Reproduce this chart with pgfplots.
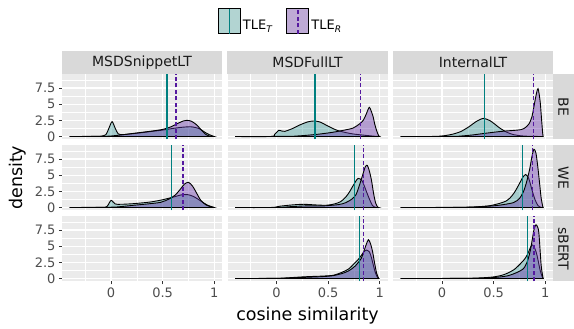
\documentclass[border=0pt]{standalone}
\usepackage{pgfplots}
\pgfplotsset{compat=1.18}
\usepgfplotslibrary{groupplots}
\usepackage{fontspec}
\setmainfont{DejaVu Sans}
\definecolor{gbg}{HTML}{EBEBEB}
\definecolor{gstrip}{HTML}{D9D9D9}
\definecolor{gtick}{HTML}{333333}
\definecolor{gtext}{HTML}{4D4D4D}
\definecolor{gstript}{HTML}{1A1A1A}
\definecolor{tfillc}{RGB}{0,128,128}
\definecolor{rfillc}{RGB}{102,51,170}
\definecolor{tkey}{RGB}{178,212,210}
\definecolor{rkey}{RGB}{190,170,213}
\definecolor{tline}{RGB}{0,128,128}
\definecolor{rline}{RGB}{85,25,160}
\pgfplotsset{
 tarea/.style={draw=black, line width=0.9pt, fill=tfillc, fill opacity=0.3, smooth, tension=0.45},
 rarea/.style={draw=black, line width=0.9pt, fill=rfillc, fill opacity=0.42, smooth, tension=0.45},
 tvl/.style={draw=tline, fill=none, line width=1.4pt},
 rvl/.style={draw=rline, fill=none, line width=1.4pt, dash pattern=on 4pt off 2.5pt},
 noxt/.style={every major x tick/.style={draw=none}},
 noyt/.style={every major y tick/.style={draw=none}},
 panelgeom/.style={width=160pt, height=65.5pt, scale only axis,
   xmin=-0.475, xmax=1.075, ymin=-0.46, ymax=9.66, clip=true},
}
\begin{document}
\begin{tikzpicture}
\begin{groupplot}[
 group style={group size=3 by 3, horizontal sep=5.5pt, vertical sep=5.5pt, group name=G,
   xticklabels at=edge bottom, yticklabels at=edge left},
 panelgeom,
 xtick={0,0.5,1}, minor xtick={-0.25,0.25,0.75},
 ytick={0,2.5,5,7.5}, minor ytick={1.25,3.75,6.25,8.75},
 grid=both, major grid style={white, line width=1.1pt}, minor grid style={white, line width=0.55pt},
 axis line style={draw=none},
 axis background/.style={fill=gbg},
 tick align=outside, major tick length=3pt, minor tick length=0pt,
 xtick pos=bottom, ytick pos=left,
 tick style={draw=gtick, line width=0.8pt},
 ticklabel style={font=\fontsize{13}{13}\selectfont, text=gtext},
 /pgf/number format/assume math mode=true,
]
% ---------- row 1: BE ----------
\nextgroupplot[noxt]
\addplot[tarea] coordinates {(-0.4,0) (-0.2,0.02) (-0.1,0.05) (-0.05,0.3) (-0.02,1.3) (0.01,2.3) (0.04,1.3) (0.07,0.4) (0.12,0.3) (0.2,0.42) (0.3,0.6) (0.4,0.8) (0.5,1.0) (0.6,1.25) (0.7,1.45) (0.78,1.5) (0.85,1.25) (0.9,0.75) (0.95,0.3) (1.0,0)} \closedcycle;
\addplot[rarea] coordinates {(-0.4,0) (-0.1,0.02) (0,0.08) (0.1,0.25) (0.2,0.45) (0.3,0.65) (0.4,0.85) (0.5,1.1) (0.58,1.5) (0.65,2.05) (0.7,2.4) (0.74,2.5) (0.78,2.35) (0.83,1.8) (0.88,0.9) (0.92,0.3) (0.96,0.05) (1.0,0)} \closedcycle;
\nextgroupplot[noxt,noyt,
 legend columns=2,
 legend style={at={(axis description cs:-0.06,2.01)}, anchor=north west, draw=none, fill=none, inner sep=0pt,
   font=\fontsize{13}{13}\selectfont, /tikz/every even column/.append style={column sep=12pt}},
]
\addlegendimage{legend image code/.code={\draw[fill=tkey,draw=black,line width=0.9pt] (0pt,-7.8pt) rectangle (22pt,17.2pt); \draw[tline,line width=1.4pt] (11pt,-7.8pt)--(11pt,17.2pt);}}
\addlegendentry{TLE\textsubscript{\itshape T}}
\addlegendimage{legend image code/.code={\draw[fill=rkey,draw=black,line width=0.9pt] (0pt,-7.8pt) rectangle (22pt,17.2pt); \draw[rline,line width=1.4pt,dash pattern=on 4pt off 2.5pt] (11pt,-7.8pt)--(11pt,17.2pt);}}
\addlegendentry{TLE\textsubscript{\itshape R}}
\addplot[tarea] coordinates {(-0.4,0) (-0.05,0.01) (-0.02,0.3) (0.02,0.95) (0.05,0.85) (0.08,0.8) (0.15,1.2) (0.22,1.75) (0.3,2.25) (0.36,2.4) (0.42,2.25) (0.5,1.6) (0.58,1.0) (0.66,0.65) (0.74,0.4) (0.82,0.25) (0.9,0.12) (0.97,0.02) (1.0,0)} \closedcycle;
\addplot[rarea] coordinates {(-0.4,0) (0.1,0.02) (0.2,0.08) (0.3,0.2) (0.4,0.35) (0.5,0.55) (0.58,0.75) (0.66,1.0) (0.74,1.3) (0.8,1.9) (0.84,2.5) (0.87,3.5) (0.9,4.5) (0.935,3.1) (0.95,2.0) (0.97,0.9) (0.99,0.1) (1.0,0)} \closedcycle;
\nextgroupplot[noxt,noyt]
\addplot[tarea] coordinates {(-0.4,0) (-0.1,0.01) (0.0,0.08) (0.1,0.35) (0.18,0.76) (0.26,1.5) (0.33,2.3) (0.40,2.8) (0.47,2.4) (0.56,1.3) (0.63,0.65) (0.69,0.3) (0.76,0.12) (0.82,0.05) (0.9,0.02) (0.96,0)} \closedcycle;
\addplot[rarea] coordinates {(-0.4,0) (0.1,0.02) (0.2,0.1) (0.3,0.25) (0.38,0.42) (0.46,0.58) (0.55,0.75) (0.63,0.87) (0.7,0.95) (0.76,1.05) (0.8,1.3) (0.84,1.9) (0.87,3.0) (0.89,4.6) (0.91,6.3) (0.93,7.4) (0.95,5.5) (0.965,2.5) (0.975,0.5) (0.98,0)} \closedcycle;
% ---------- row 2: WE ----------
\nextgroupplot[noxt]
\addplot[tarea] coordinates {(-0.4,0) (-0.1,0.02) (-0.04,0.15) (0.0,1.1) (0.04,0.55) (0.1,0.5) (0.22,0.6) (0.38,0.85) (0.5,1.2) (0.6,1.6) (0.68,1.95) (0.74,2.0) (0.8,1.7) (0.87,1.0) (0.93,0.4) (1.0,0)} \closedcycle;
\addplot[rarea] coordinates {(-0.4,0) (0.0,0.05) (0.1,0.15) (0.22,0.35) (0.35,0.55) (0.48,0.8) (0.56,1.3) (0.62,1.9) (0.67,2.8) (0.71,3.6) (0.75,3.9) (0.79,3.3) (0.83,2.2) (0.87,1.1) (0.92,0.4) (0.97,0.1) (1.0,0)} \closedcycle;
\nextgroupplot[noxt,noyt]
\addplot[tarea] coordinates {(-0.4,0) (-0.05,0.01) (0.03,0.2) (0.15,0.4) (0.26,0.5) (0.38,0.4) (0.48,0.35) (0.56,0.55) (0.62,0.9) (0.67,1.6) (0.71,2.5) (0.75,3.6) (0.79,4.5) (0.83,4.1) (0.87,2.5) (0.9,1.3) (0.93,0.3) (0.96,0.02) (0.97,0)} \closedcycle;
\addplot[rarea] coordinates {(-0.4,0) (0.0,0.01) (0.15,0.15) (0.29,0.25) (0.45,0.25) (0.6,0.45) (0.67,0.75) (0.73,1.3) (0.77,2.0) (0.8,3.3) (0.83,4.8) (0.86,6.3) (0.88,6.5) (0.9,5.6) (0.92,4.2) (0.94,2.2) (0.96,0.7) (0.98,0.05) (0.99,0)} \closedcycle;
\nextgroupplot[noxt,noyt]
\addplot[tarea] coordinates {(-0.4,0) (0.1,0.01) (0.3,0.08) (0.4,0.18) (0.47,0.3) (0.56,0.65) (0.62,1.0) (0.66,1.5) (0.7,2.3) (0.74,3.4) (0.78,4.6) (0.81,5.1) (0.84,4.5) (0.87,2.8) (0.9,1.25) (0.93,0.3) (0.96,0.02) (0.97,0)} \closedcycle;
\addplot[rarea] coordinates {(-0.4,0) (0.2,0.03) (0.4,0.15) (0.55,0.35) (0.69,0.75) (0.75,1.4) (0.79,2.5) (0.82,4.0) (0.85,6.0) (0.87,7.8) (0.89,9.0) (0.91,8.4) (0.93,6.0) (0.95,3.0) (0.96,1.5) (0.975,0.2) (0.98,0)} \closedcycle;
% ---------- row 3: sBERT ----------
\nextgroupplot[]
\nextgroupplot[noyt]
\addplot[tarea] coordinates {(-0.4,0) (0.0,0.03) (0.15,0.15) (0.25,0.25) (0.35,0.32) (0.45,0.38) (0.55,0.5) (0.64,1.0) (0.7,1.5) (0.74,2.1) (0.8,3.1) (0.84,4.0) (0.87,4.4) (0.9,4.1) (0.92,3.2) (0.95,1.3) (0.97,0.4) (0.99,0)} \closedcycle;
\addplot[rarea] coordinates {(-0.4,0) (0.0,0.02) (0.15,0.1) (0.3,0.2) (0.45,0.3) (0.55,0.45) (0.64,0.8) (0.7,1.2) (0.76,1.9) (0.82,3.1) (0.85,4.4) (0.87,5.3) (0.89,6.0) (0.91,5.4) (0.93,4.2) (0.95,2.4) (0.97,0.8) (0.99,0)} \closedcycle;
\nextgroupplot[noyt]
\addplot[tarea] coordinates {(-0.4,0) (0.2,0.02) (0.4,0.12) (0.5,0.25) (0.58,0.5) (0.63,0.8) (0.7,1.4) (0.76,2.3) (0.8,3.0) (0.83,3.8) (0.87,5.2) (0.9,4.6) (0.92,3.6) (0.95,1.3) (0.97,0.3) (0.98,0)} \closedcycle;
\addplot[rarea] coordinates {(-0.4,0) (0.3,0.03) (0.5,0.15) (0.63,0.4) (0.72,0.9) (0.79,1.55) (0.83,2.8) (0.86,4.7) (0.89,7.5) (0.91,8.3) (0.93,7.8) (0.94,6.7) (0.96,2.1) (0.975,0.4) (0.98,0)} \closedcycle;
\end{groupplot}
% ---------- mean lines in an overlay grid of identical, hidden axes ----------
\begin{groupplot}[
 group style={group size=3 by 3, horizontal sep=5.5pt, vertical sep=5.5pt, group name=H},
 panelgeom, hide axis,
]
\nextgroupplot
\addplot[tvl] coordinates {(0.543,-0.46) (0.543,9.66)};
\addplot[rvl] coordinates {(0.631,-0.46) (0.631,9.66)};
\nextgroupplot
\addplot[tvl] coordinates {(0.371,-0.46) (0.371,9.66)};
\addplot[rvl] coordinates {(0.813,-0.46) (0.813,9.66)};
\nextgroupplot
\addplot[tvl] coordinates {(0.41,-0.46) (0.41,9.66)};
\addplot[rvl] coordinates {(0.887,-0.46) (0.887,9.66)};
\nextgroupplot
\addplot[tvl] coordinates {(0.583,-0.46) (0.583,9.66)};
\addplot[rvl] coordinates {(0.699,-0.46) (0.699,9.66)};
\nextgroupplot
\addplot[tvl] coordinates {(0.758,-0.46) (0.758,9.66)};
\addplot[rvl] coordinates {(0.845,-0.46) (0.845,9.66)};
\nextgroupplot
\addplot[tvl] coordinates {(0.78,-0.46) (0.78,9.66)};
\addplot[rvl] coordinates {(0.875,-0.46) (0.875,9.66)};
\nextgroupplot
\nextgroupplot
\addplot[tvl] coordinates {(0.806,-0.46) (0.806,9.66)};
\addplot[rvl] coordinates {(0.845,-0.46) (0.845,9.66)};
\nextgroupplot
\addplot[tvl] coordinates {(0.83,-0.46) (0.83,9.66)};
\addplot[rvl] coordinates {(0.89,-0.46) (0.89,9.66)};
\end{groupplot}
% strips
\foreach \c/\t in {1/MSDSnippetLT,2/MSDFullLT,3/InternalLT}{
  \fill[gstrip] (G c\c r1.north west) rectangle ([yshift=23pt]G c\c r1.north east);
  \node[text=gstript, font=\fontsize{14}{14}\selectfont] at ([yshift=11.5pt]G c\c r1.north) {\t};
}
\foreach \r/\t in {1/BE,2/WE,3/sBERT}{
  \fill[gstrip] (G c3r\r.north east) rectangle ([xshift=21pt]G c3r\r.south east);
  \node[text=gstript, font=\fontsize{14}{14}\selectfont, rotate=-90] at ([xshift=10.5pt]G c3r\r.east) {\t};
}
\node[rotate=90, font=\fontsize{17.5}{17.5}\selectfont] at ([xshift=-44pt]G c1r2.west) {density};
\node[font=\fontsize{17.5}{17.5}\selectfont] at ([yshift=-34.5pt]G c2r3.south) {cosine similarity};
\pgfresetboundingbox
\path ([xshift=-62pt,yshift=74pt]G c1r1.north west) rectangle ([xshift=21pt,yshift=-47.5pt]G c3r3.south east);
\end{tikzpicture}
\end{document}
